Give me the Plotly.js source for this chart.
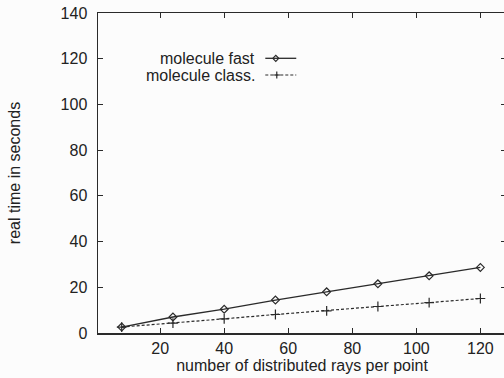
<!DOCTYPE html>
<html>
<head>
<meta charset="utf-8">
<script src="https://cdn.plot.ly/plotly-3.0.1.min.js"></script>
<style>
html,body{margin:0;padding:0;overflow:hidden;background:#fcfcfc;width:504px;height:378px;}
#chart{width:510px;height:378px;}
</style>
</head>
<body>
<div id="chart"></div>
<script>
const raysPerPoint = [8, 24, 40, 56, 72, 88, 104, 120];
const moleculeFast = [2.6, 7.0, 10.4, 14.4, 18.0, 21.5, 25.0, 28.7];
const moleculeClass = [2.6, 4.3, 6.2, 8.1, 9.7, 11.6, 13.3, 15.1];
const seriesNames = ["molecule fast", "molecule class."];
const xTicks = [20, 40, 60, 80, 100, 120];
const yTicks = [0, 20, 40, 60, 80, 100, 120, 140];

const ink = '#2a2a2a';
const font = {family: 'Liberation Sans, Arial, sans-serif', size: 16, color: '#222'};
const legendFont = {family: 'Liberation Sans, Arial, sans-serif', size: 16, color: '#222'};

const traces = [
  {x: raysPerPoint, y: moleculeFast, name: seriesNames[0], mode: 'lines+markers',
   line: {color: ink, width: 1.3},
   marker: {symbol: 'diamond-open', size: 6, color: ink, line: {width: 1.2, color: ink}}},
  {x: raysPerPoint, y: moleculeClass, name: seriesNames[1], mode: 'lines+markers',
   line: {color: ink, width: 1.2, dash: '3px,2px'},
   marker: {symbol: 'cross-thin-open', size: 7, color: ink, line: {width: 1.2, color: ink}}}
];

// legend key geometry in paper coordinates
const L = 97.5, W = 408.5, T = 13, H = 320;
const px = v => (v - L) / W;
const py = v => (T + H - v) / H;
const keyY = [58.3, 75];
const keyX0 = px(265), keyX1 = px(296);

const shapes = [];
keyY.forEach((yy, i) => {
  shapes.push({type: 'line', xref: 'paper', yref: 'paper', x0: keyX0, x1: keyX1, y0: py(yy), y1: py(yy),
    line: {color: ink, width: i === 0 ? 1.3 : 1.2, dash: i === 0 ? 'solid' : '3px,2px'}});
});
const mx = px(275.5), dx = 3 / W, dy = 3 / H;
const y0 = py(keyY[0]);
shapes.push({type: 'path', xref: 'paper', yref: 'paper',
  path: `M ${mx - dx} ${y0} L ${mx} ${y0 + dy} L ${mx + dx} ${y0} L ${mx} ${y0 - dy} Z`,
  line: {color: ink, width: 1.2}, fillcolor: 'rgba(0,0,0,0)'});
const y1 = py(keyY[1]);
const cx = px(276.5), ex = 3.5 / W, ey = 3.5 / H;
shapes.push({type: 'path', xref: 'paper', yref: 'paper',
  path: `M ${cx - ex} ${y1} L ${cx + ex} ${y1} M ${cx} ${y1 - ey} L ${cx} ${y1 + ey}`,
  line: {color: ink, width: 1.2}});

const annotations = seriesNames.map((n, i) => ({
  text: n, xref: 'paper', yref: 'paper', x: px(256), y: py(keyY[i]),
  xanchor: 'right', yanchor: 'middle', showarrow: false, font: legendFont,
  borderpad: 0, height: 16, valign: 'middle'
}));

const axisCommon = {
  showgrid: false, zeroline: false, showline: true, mirror: 'ticks',
  linecolor: ink, linewidth: 1.5, ticks: 'inside', ticklen: 5, tickwidth: 1.2,
  tickcolor: ink, tickfont: font
};

const layout = {
  width: 510, height: 378,
  margin: {l: L, r: 510 - L - W, t: T, b: 378 - T - H},
  paper_bgcolor: '#fcfcfc', plot_bgcolor: '#fcfcfc',
  showlegend: false,
  font: font,
  xaxis: Object.assign({}, axisCommon, {
    range: [0.6, 128], tickvals: xTicks, ticklabelstandoff: 0,
    title: {text: 'number of distributed rays per point', font: font, standoff: 0}
  }),
  yaxis: Object.assign({}, axisCommon, {
    range: [0, 140], tickvals: yTicks, ticklabelstandoff: 6,
    title: {text: 'real time in seconds', font: font, standoff: 36}
  }),
  shapes: shapes,
  annotations: annotations
};

Plotly.newPlot('chart', traces, layout, {displayModeBar: false, staticPlot: true});
</script>
</body>
</html>
